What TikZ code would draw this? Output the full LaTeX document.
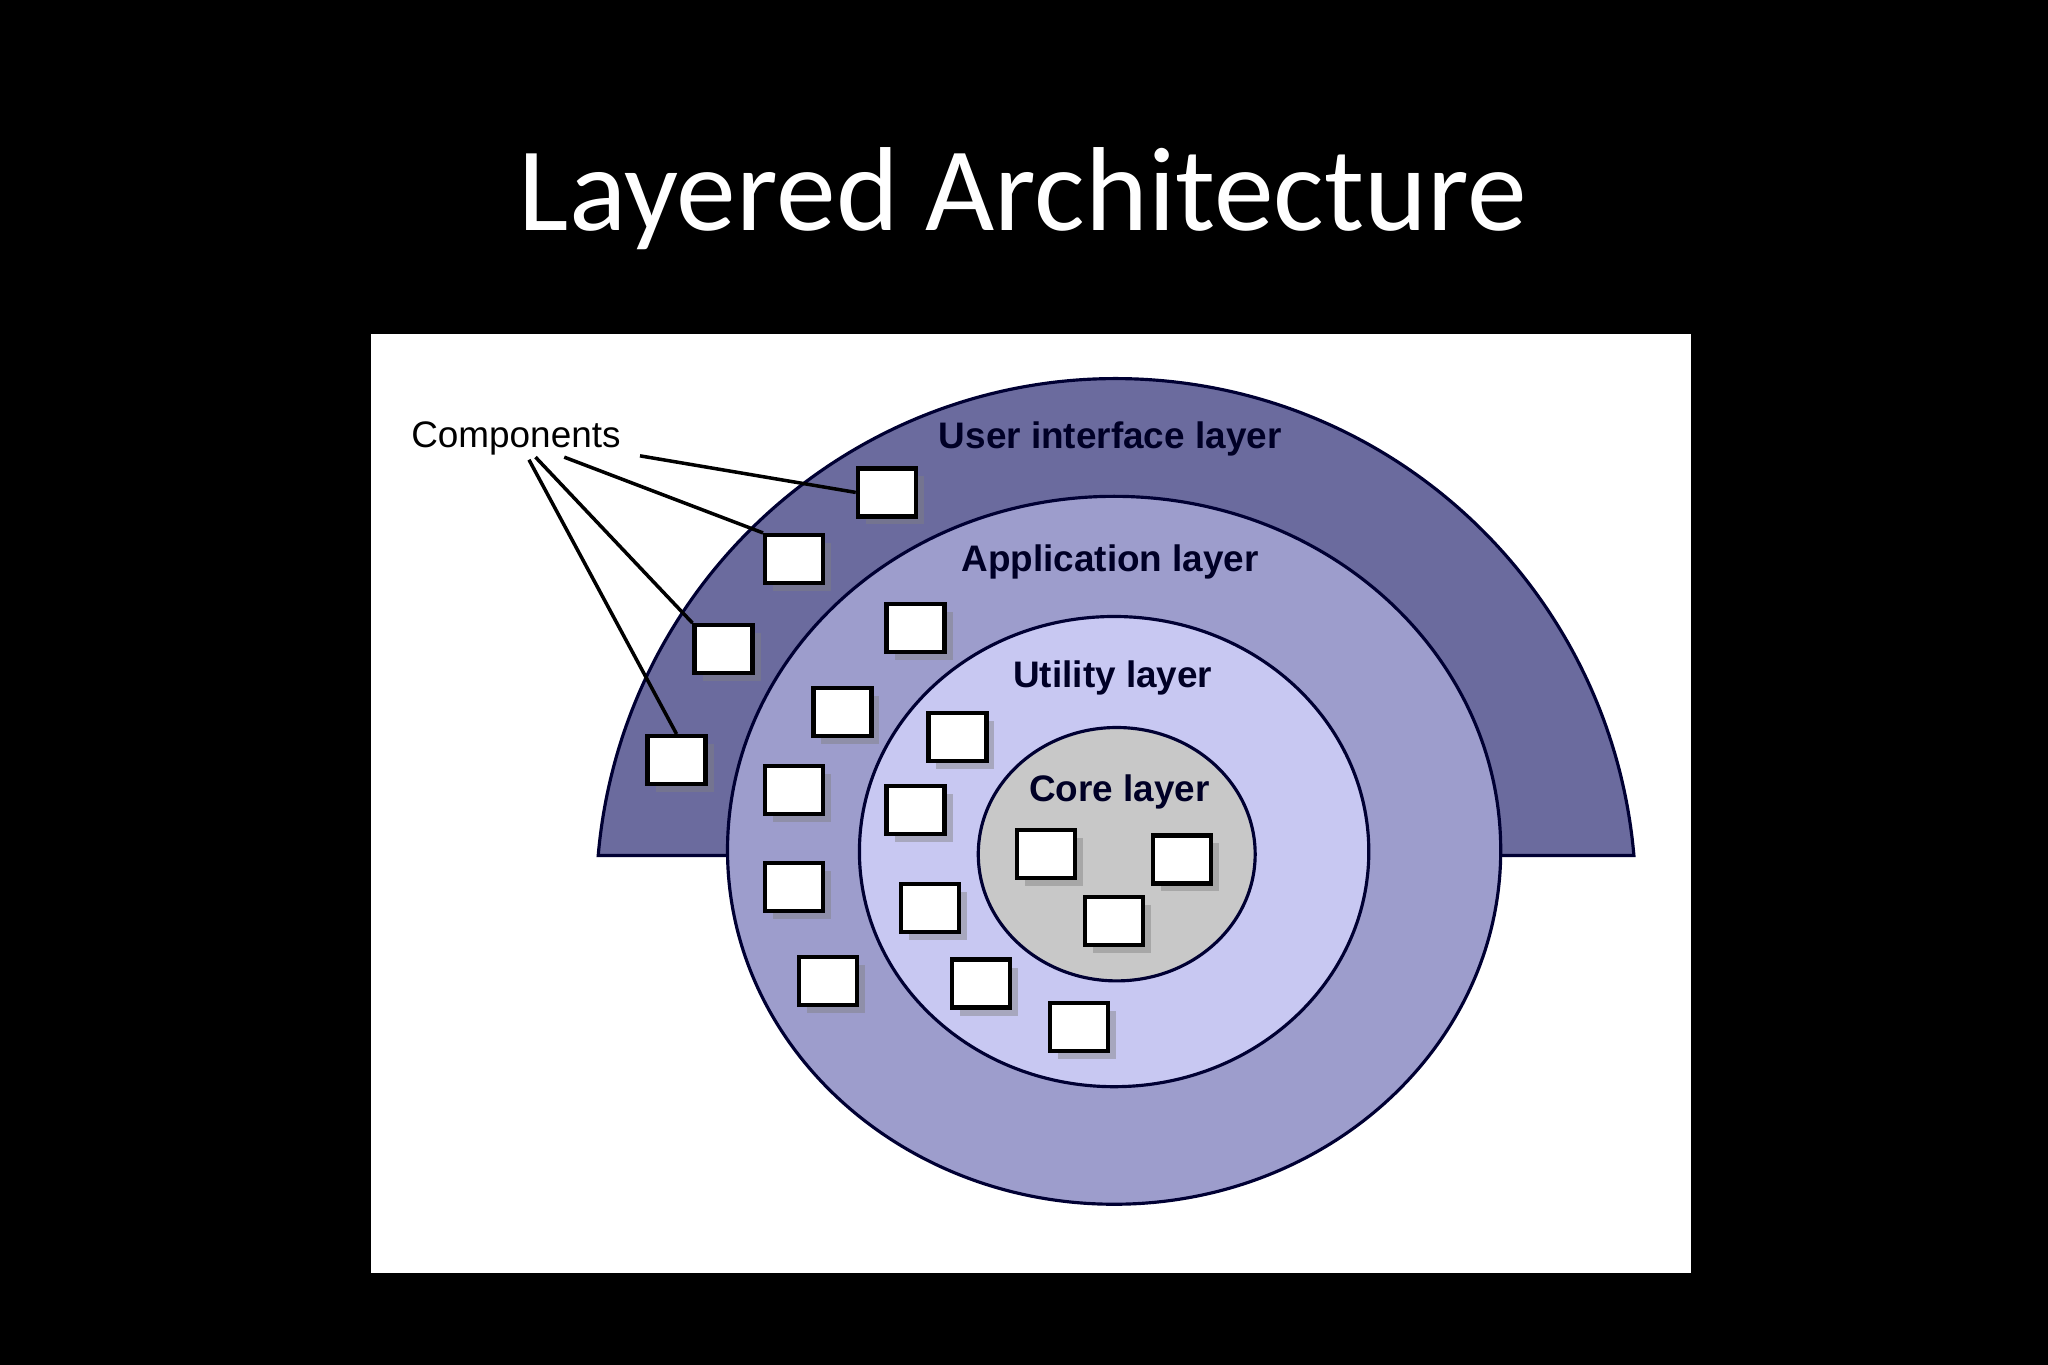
\documentclass[tikz,border=0pt]{standalone}
\usepackage{fontspec}
\setmainfont{Carlito}
\newfontfamily\lblfont{Liberation Sans}
\usetikzlibrary{shadows}
\definecolor{uicol}{HTML}{6B6B9E}
\definecolor{appcol}{HTML}{9D9DCC}
\definecolor{utilcol}{HTML}{C8C8F2}
\definecolor{corecol}{HTML}{C8C8C8}
\tikzset{
  comp/.style={draw=black, line width=1.2pt, fill=white, minimum width=0.58cm, minimum height=0.48cm, inner sep=0pt,
    drop shadow={shadow xshift=0.08cm, shadow yshift=-0.08cm, opacity=0.45}},
  layer/.style={font=\lblfont\fontsize{10.5}{12}\selectfont\bfseries, text=black!85!blue},
  ring/.style={draw=black!80!blue, line width=0.9pt}
}
\begin{document}
\begin{tikzpicture}[x=0.01306cm, y=-0.01306cm]
\fill[black] (0,0) rectangle (1568,1045);
\useasboundingbox (0,0) rectangle (1568,1045);
\node[text=white, font=\fontsize{34}{40}\selectfont] (title) at (783,152) {Layered Architecture};
\fill[white] (284,256) rectangle (1295,975);

% layers
\draw[ring, fill=uicol] (458,655) arc[start angle=185, end angle=355, x radius=398, y radius=400] -- cycle;
\draw[ring, fill=appcol] (853,651) ellipse [x radius=296, y radius=271];
\draw[ring, fill=utilcol] (853,652) ellipse [x radius=195, y radius=180];
\draw[ring, fill=corecol] (855,654) ellipse [x radius=106, y radius=97];

\node[layer] (ui) at (850,336) {User interface layer};
\node[layer] (app) at (850,430) {Application layer};
\node[layer] (util) at (852,519) {Utility layer};
\node[layer] (core) at (857,606) {Core layer};

% components
\node[comp] (c1) at (679,377) {};
\node[comp] (c2) at (608,428) {};
\node[comp] (c3) at (554,497) {};
\node[comp] (c4) at (518,582) {};
\node[comp] (c5) at (701,481) {};
\node[comp] (c6) at (645,545) {};
\node[comp] (c7) at (733,564) {};
\node[comp] (c8) at (608,605) {};
\node[comp] (c9) at (701,620) {};
\node[comp] (c10) at (608,679) {};
\node[comp] (c11) at (712,695) {};
\node[comp] (c12) at (634,751) {};
\node[comp] (c13) at (751,753) {};
\node[comp] (c14) at (826,786) {};
\node[comp] (c15) at (801,654) {};
\node[comp] (c16) at (905,658) {};
\node[comp] (c17) at (853,705) {};

\node[font=\lblfont\fontsize{10.5}{12}\selectfont] (comps) at (395,336) {Components};
\coordinate (p1) at (490,349);
\coordinate (p2) at (432,350);
\coordinate (p3) at (410,350);
\coordinate (p4) at (405,352);
\draw[line width=1pt] (p1) -- (c1.west);
\draw[line width=1pt] (p2) -- (c2.north west);
\draw[line width=1pt] (p3) -- (c3.north west);
\draw[line width=1pt] (p4) -- (c4.north);
\end{tikzpicture}
\end{document}
